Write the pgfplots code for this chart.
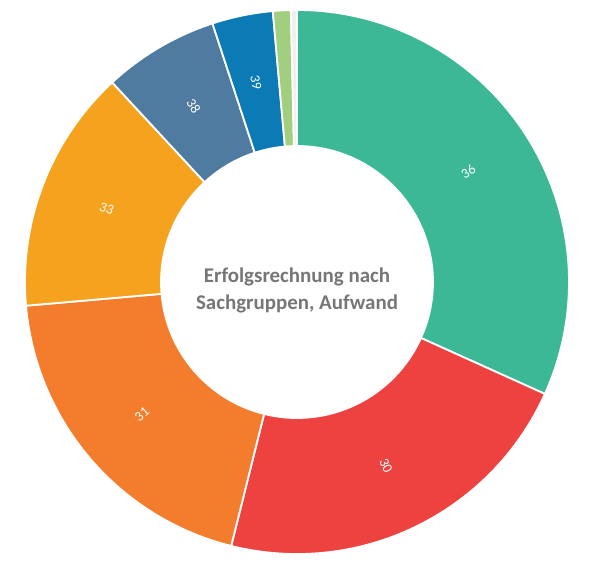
\documentclass[border=0pt]{standalone}
\usepackage{pgfplots}
\pgfplotsset{compat=1.18}
\usepackage{pgfplotstable}
\usetikzlibrary{calc}
\usepackage{fontspec}
\setmainfont{Carlito}
\definecolor{seg0}{HTML}{3DB897}
\definecolor{seg1}{HTML}{EE4240}
\definecolor{seg2}{HTML}{F47D2D}
\definecolor{seg3}{HTML}{F5A31F}
\definecolor{seg4}{HTML}{4F7BA1}
\definecolor{seg5}{HTML}{0B7AB5}
\definecolor{seg6}{HTML}{A2CE80}
\definecolor{seg7}{HTML}{EEF2EC}
\definecolor{centertext}{HTML}{767676}
\begin{document}
\begin{tikzpicture}
\pgfplotstableread{
label value show
36 31.75 1
30 22.14 1
31 19.72 1
33 14.50 1
38 6.86 1
39 3.61 1
35 1.06 0
37 0.36 0
}\donutdata
\pgfplotstablegetrowsof{\donutdata}
\pgfmathtruncatemacro\nlast{\pgfplotsretval-1}
\xdef\cum{90}
\foreach \i in {0,...,\nlast}{%
  \pgfplotstablegetelem{\i}{value}\of\donutdata
  \pgfmathsetmacro\aE{\cum-3.6*\pgfplotsretval}%
  \expandafter\xdef\csname segS\i\endcsname{\cum}%
  \expandafter\xdef\csname segE\i\endcsname{\aE}%
  \pgfmathsetmacro\aM{(\cum+\aE)/2}%
  \pgfmathsetmacro\aR{\aM<-90 ? \aM+180 : \aM}%
  \expandafter\xdef\csname segM\i\endcsname{\aM}%
  \expandafter\xdef\csname segR\i\endcsname{\aR}%
  \pgfplotstablegetelem{\i}{label}\of\donutdata
  \expandafter\xdef\csname segL\i\endcsname{\pgfplotsretval}%
  \pgfplotstablegetelem{\i}{show}\of\donutdata
  \expandafter\xdef\csname segV\i\endcsname{\pgfplotsretval}%
  \xdef\cum{\aE}%
}
\begin{axis}[x=1bp,y=1bp,xmin=0,xmax=592,ymin=0,ymax=558,hide axis,clip=false]
\path (axis cs:0,0) rectangle (axis cs:592,558);
\pgfplotsinvokeforeach{0,...,7}{%
  \edef\doseg{\noexpand\fill[seg#1, draw=white, line width=1.8bp, shift={(axis cs:297,276)}]
   (\csname segS#1\endcsname:272bp) arc[start angle=\csname segS#1\endcsname, end angle=\csname segE#1\endcsname, radius=272bp]
   -- (\csname segE#1\endcsname:136bp) arc[start angle=\csname segE#1\endcsname, end angle=\csname segS#1\endcsname, radius=136bp] -- cycle;}%
  \doseg
  \ifnum\csname segV#1\endcsname=1
    \edef\dolab{\noexpand\node[text=white, inner sep=0pt, rotate=\csname segR#1\endcsname, font={\noexpand\fontsize{14}{16}\noexpand\selectfont}] at ($(axis cs:297,276)+(\csname segM#1\endcsname:204bp)$) {\csname segL#1\endcsname};}%
    \dolab
  \fi
}
\node[align=center, text=centertext, font={\bfseries\fontsize{21}{27}\selectfont}] at (axis cs:297,268) {Erfolgsrechnung nach\\Sachgruppen, Aufwand};
\end{axis}
\end{tikzpicture}
\end{document}
